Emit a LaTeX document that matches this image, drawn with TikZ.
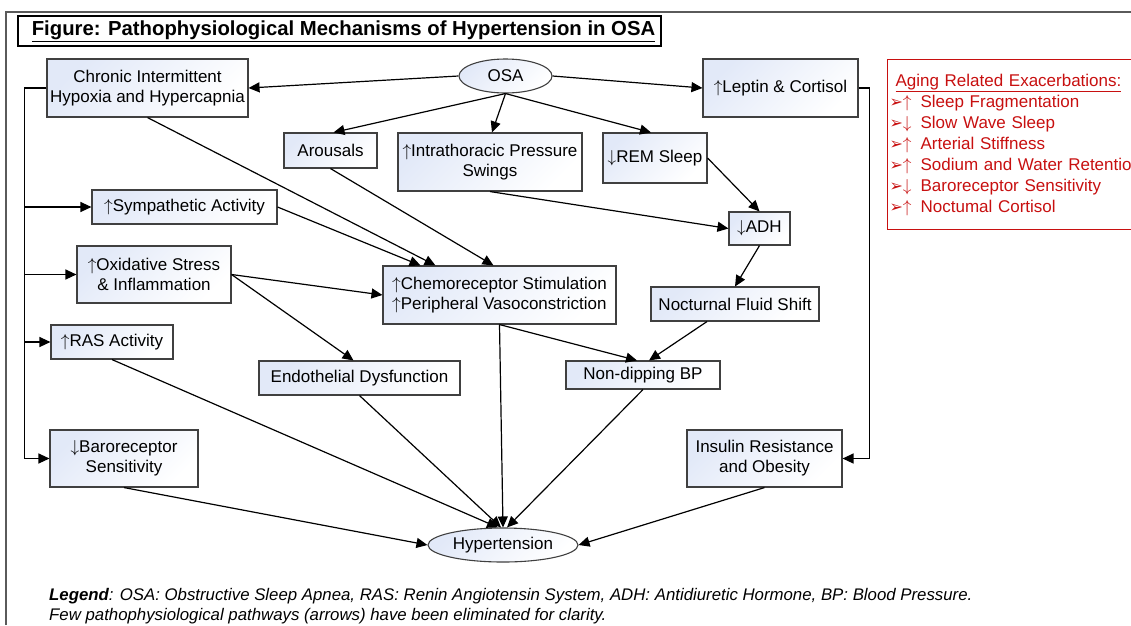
\documentclass[tikz,border=0pt]{standalone}
\usepackage{fontspec}
\setmainfont{Liberation Sans}
\newfontfamily\dejavu{DejaVu Sans}
\usepackage{tikz}
\usetikzlibrary{arrows.meta, shapes.geometric}

\definecolor{boxblue}{RGB}{226,233,248}
\definecolor{agingred}{RGB}{200,16,16}
\definecolor{framegray}{RGB}{90,90,90}

\newcommand{\uparr}{$\uparrow$}
\newcommand{\dnarr}{$\downarrow$}
\newcommand{\agebullet}{{\dejavu\fontsize{16}{21}\selectfont ➢}}

\tikzset{
  box/.style={draw=black!75, line width=1.1pt, top color=boxblue, bottom color=white,
    shading angle=45, align=center, inner sep=1pt, font=\fontsize{17}{20}\selectfont},
  oval/.style={box, ellipse},
  arr/.style={line width=1.2pt, -{Triangle[length=11pt, width=10pt]}},
}

\begin{document}
\begin{tikzpicture}[x=1pt, y=-1pt]
  \clip (0,0) rectangle (1131,625);
  \fill[white] (0,0) rectangle (1131,625);

  % frame and title
  \draw[framegray, line width=1.3pt] (6,625) -- (6,12) -- (1131,12);
  \node[draw, line width=1.1pt, minimum width=643, minimum height=30, inner sep=1pt,
        font=\bfseries\fontsize{20.3}{22}\selectfont] (title) at (339.5,31)
        {\hspace{8pt}\underline{Figure: Pathophysiological Mechanisms of Hypertension in OSA}};

  % nodes
  \node[oval, minimum width=93, minimum height=34] (osa) at (505.5,76) {OSA};
  \node[box, minimum width=201, minimum height=58] (cih) at (147.5,88) {Chronic Intermittent\\Hypoxia and Hypercapnia};
  \node[box, minimum width=155, minimum height=58] (leptin) at (780.5,88) {\uparr Leptin \& Cortisol};
  \node[box, minimum width=93, minimum height=35] (arousals) at (330.5,150.5) {Arousals};
  \node[box, minimum width=184, minimum height=58] (intra) at (490,162) {\uparr Intrathoracic Pressure\\Swings};
  \node[box, minimum width=104, minimum height=50] (rem) at (655,158) {\dnarr REM Sleep};
  \node[box, minimum width=61, minimum height=33] (adh) at (759.5,228.5) {\dnarr ADH};
  \node[box, minimum width=185, minimum height=34] (symp) at (184.5,207) {\uparr Sympathetic Activity};
  \node[box, minimum width=154, minimum height=57] (oxid) at (154,274.5) {\uparr Oxidative Stress\\\& Inflammation};
  \node[box, minimum width=122, minimum height=34] (ras) at (112,342) {\uparr RAS Activity};
  \node[box, minimum width=233, minimum height=58, align=left] (chemo) at (499.5,295) {\uparr Chemoreceptor Stimulation\\\uparr Peripheral Vasoconstriction};
  \node[box, minimum width=201, minimum height=34] (endo) at (359.5,378) {Endothelial Dysfunction};
  \node[box, minimum width=168, minimum height=34] (noct) at (735,304) {Nocturnal Fluid Shift};
  \node[box, minimum width=154, minimum height=28] (nondip) at (643,375) {Non-dipping BP};
  \node[box, minimum width=148, minimum height=57] (baro) at (124,458.5) {\dnarr Baroreceptor\\Sensitivity};
  \node[box, minimum width=155, minimum height=57] (insulin) at (764.5,458.5) {Insulin Resistance\\and Obesity};
  \node[oval, minimum width=150, minimum height=34] (hyper) at (503,545) {Hypertension};

  % aging box
  \node[draw=agingred, line width=1.1pt, anchor=north west, text=agingred, align=left,
        text width=266pt, minimum height=170, inner xsep=2pt, inner ysep=7pt,
        font=\fontsize{17}{21}\selectfont] (aging) at (887,59)
        {\hspace{6pt}\underline{Aging Related Exacerbations:}\\
         \agebullet\uparr\hspace{9pt}Sleep Fragmentation\\
         \agebullet\dnarr\hspace{9pt}Slow Wave Sleep\\
         \agebullet\uparr\hspace{9pt}Arterial Stiffness\\
         \agebullet\uparr\hspace{9pt}Sodium and Water Retention\\
         \agebullet\dnarr\hspace{9pt}Baroreceptor Sensitivity\\
         \agebullet\uparr\hspace{9pt}Noctumal Cortisol};

  % legend
  \node[anchor=west, align=left, inner sep=0pt, font=\itshape\fontsize{16.8}{20}\selectfont] (legend) at (49,606)
        {\textbf{Legend}: OSA: Obstructive Sleep Apnea, RAS: Renin Angiotensin System, ADH: Antidiuretic Hormone, BP: Blood Pressure.\\
         Few pathophysiological pathways (arrows) have been eliminated for clarity.};

  % from OSA
  \draw[arr] (osa.west) -- (cih.east);
  \draw[arr] (osa.east) -- (leptin.west);
  \draw[arr] (osa.south) -- ([xshift=3pt]arousals.north);
  \draw[arr] (osa.south) -- ([xshift=2pt]intra.north);
  \draw[arr] (osa.south) -- ([xshift=-4pt]rem.north);

  % left bus
  \draw[line width=1.2pt] (cih.west) -- ++(-22,0) coordinate (lbus);
  \draw[arr] (lbus) |- (baro.west);
  \draw[arr] (lbus |- symp.west) -- (symp.west);
  \draw[arr] (lbus |- oxid.west) -- (oxid.west);
  \draw[arr] (lbus |- ras.west) -- (ras.west);

  % right bus
  \draw[arr] (leptin.east) -- ++(11,0) |- (insulin.east);

  % into chemoreceptor box
  \draw[arr] (cih.south) -- ([xshift=-64pt]chemo.north);
  \draw[arr] (symp.east) -- ([xshift=-79pt]chemo.north);
  \draw[arr] (arousals.south) -- ([xshift=-6pt]chemo.north);
  \draw[arr] (oxid.east) -- (chemo.west);
  \draw[arr] (oxid.east) -- ([xshift=-6pt]endo.north);

  % fluid pathway
  \draw[arr] (intra.south) -- (adh.west);
  \draw[arr] (rem.east) -- (adh.north);
  \draw[arr] (adh.south) -- (noct.north);
  \draw[arr] ([xshift=-28pt]noct.south) -- ([xshift=6pt]nondip.north);
  \draw[arr] (chemo.south) -- ([xshift=-6pt]nondip.north);

  % into hypertension
  \draw[arr] (ras.south) -- ([xshift=-5pt]hyper.north);
  \draw[arr] (endo.south) -- ([xshift=-2pt]hyper.north);
  \draw[arr] (chemo.south) -- (hyper.north);
  \draw[arr] (nondip.south) -- ([xshift=4pt]hyper.north);
  \draw[arr] (baro.south) -- (hyper.west);
  \draw[arr] (insulin.south) -- (hyper.east);
\end{tikzpicture}
\end{document}
